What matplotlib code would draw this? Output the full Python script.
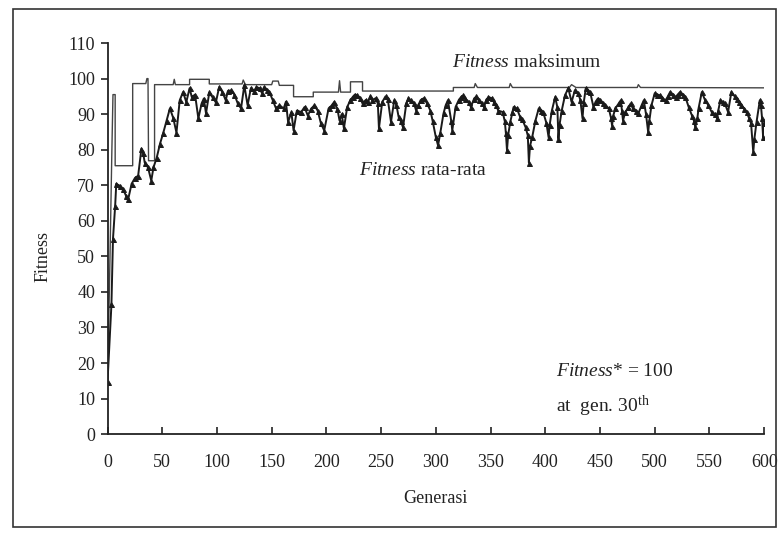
import matplotlib
matplotlib.use("Agg")
import matplotlib.pyplot as plt
from matplotlib.patches import Rectangle

plt.rcParams['font.family'] = ['Liberation Serif', 'DejaVu Serif']
plt.rcParams['mathtext.fontset'] = 'custom'
plt.rcParams['mathtext.rm'] = 'Liberation Serif'
plt.rcParams['mathtext.it'] = 'Liberation Serif:italic'

# fitness maksimum (titik patahan garis)
max_gen = [0, 2, 4, 5, 7, 7, 23, 23, 35, 36, 37, 37.5, 43, 43, 60, 61, 62, 75, 75,
           93, 93, 123, 124, 126, 150, 151, 156, 157, 170, 170, 188, 188, 211, 212,
           213, 222, 222, 233, 233, 316, 316, 335, 336, 338, 367, 368, 370, 422,
           424, 428, 484, 485, 487, 600]
max_val = [15, 45, 80, 95.5, 95.5, 75.5, 75.5, 98.6, 98.6, 100, 100, 76.9, 76.9,
           98.3, 98.3, 99.8, 98.3, 98.3, 99.8, 99.8, 98.5, 98.5, 99.6, 98.3, 98.3,
           99.3, 99.3, 98.1, 98.1, 94.9, 94.9, 96.2, 96.2, 99.4, 96.2, 96.2, 99.1,
           99.1, 96.5, 96.5, 97.5, 97.5, 98.6, 97.5, 97.5, 98.6, 97.5, 97.5, 98.3,
           97.5, 97.5, 98.3, 97.5, 97.4]

# fitness rata-rata
avg_gen = [0, 3.6, 5, 7, 8, 11, 14, 17, 19, 22, 25, 28, 31, 32.5, 34, 37, 40, 42,
           45, 48, 51, 54, 57, 60, 63, 66, 69, 72, 75, 77, 80, 83, 86, 88, 90, 93,
           96, 99, 102, 105, 108, 110, 113, 116, 119, 122, 125, 128, 131, 134, 136,
           139, 141, 143, 146, 148, 151, 154, 157, 161, 163, 165, 168, 170, 173,
           177, 180, 183, 186, 189, 192, 195, 198, 202, 205, 207, 210, 212, 214,
           216, 219, 222, 224, 226, 228, 231, 233, 236, 238, 240, 242, 245, 247,
           248, 251, 254, 256, 259, 262, 264, 266, 268, 270, 273, 275, 277, 280,
           282, 284, 286, 289, 292, 295, 297, 300, 302, 304, 307, 309, 311, 314,
           315, 318, 321, 323, 325, 327, 330, 332, 335, 337, 339, 342, 344, 346,
           348, 351, 353, 355, 357, 361, 363, 364, 365, 366, 368, 370, 371, 374,
           377, 379, 382, 384, 385, 386, 388, 391, 394, 396, 398, 401, 403, 404,
           406, 409, 411, 412, 413, 415, 418, 421, 424, 427, 430, 432, 434, 435,
           437, 439, 441, 444, 446, 448, 450, 453, 455, 458, 460, 461, 462, 464,
           467, 469, 470, 471, 473, 476, 478, 480, 483, 485, 488, 490, 492, 494,
           495, 497, 500, 502, 505, 507, 510, 512, 514, 517, 519, 521, 523, 526,
           528, 531, 534, 536, 537, 539, 540, 543, 546, 549, 552, 555, 557, 558,
           560, 562, 564, 567, 570, 573, 575, 577, 579, 582, 584, 586, 588, 590,
           591, 593, 596, 597, 598, 599, 600]
avg_val = [14.7, 36.5, 54.9, 64.2, 70.4, 69.9, 69.0, 67.0, 66.2, 70.4, 72.0, 72.7,
           80.3, 79.2, 76.4, 75.0, 71.3, 75.0, 77.8, 81.7, 84.8, 88.2, 91.6, 89.0,
           84.8, 93.9, 96.2, 93.4, 97.3, 94.8, 95.5, 88.8, 93.0, 94.4, 90.2, 96.1,
           94.7, 93.3, 97.6, 96.2, 93.9, 96.5, 96.7, 95.5, 93.0, 91.6, 98.1, 92.5,
           97.3, 96.5, 97.6, 97.3, 96.0, 97.6, 96.8, 96.2, 93.9, 91.6, 92.5, 91.6,
           93.5, 87.8, 90.5, 85.4, 91.0, 90.6, 92.0, 89.6, 91.5, 92.5, 91.0, 87.4,
           85.4, 91.6, 92.5, 93.4, 91.5, 88.2, 90.0, 86.0, 92.0, 94.0, 94.8, 95.5,
           95.3, 94.5, 93.0, 94.0, 93.4, 95.0, 93.9, 94.5, 93.0, 86.0, 93.4, 95.0,
           94.4, 87.8, 93.9, 92.5, 89.2, 88.0, 86.3, 93.0, 94.5, 93.9, 93.0, 91.0,
           92.5, 93.9, 94.5, 93.0, 91.0, 88.2, 83.5, 81.2, 84.6, 90.2, 92.5, 93.9,
           88.2, 85.4, 92.0, 94.0, 94.8, 95.3, 94.4, 93.5, 92.0, 94.4, 95.0, 93.9,
           93.0, 92.0, 94.0, 94.8, 94.5, 93.4, 92.5, 91.0, 90.6, 88.0, 84.6, 79.8,
           84.0, 87.8, 90.5, 92.0, 91.6, 89.2, 88.5, 86.3, 84.0, 76.4, 81.0, 83.5,
           88.2, 91.6, 91.0, 90.6, 87.5, 83.5, 87.0, 91.0, 94.8, 92.0, 83.1, 87.0,
           91.0, 95.3, 97.3, 93.4, 96.7, 95.9, 94.0, 88.8, 93.0, 97.3, 96.5, 96.2,
           92.0, 93.5, 94.4, 94.0, 93.0, 92.5, 91.6, 89.0, 86.8, 89.5, 91.6, 93.0,
           93.9, 91.0, 88.2, 90.5, 92.0, 93.0, 91.6, 91.0, 90.2, 92.5, 93.9, 90.0,
           84.9, 88.0, 92.5, 95.9, 95.5, 95.3, 94.5, 93.9, 95.0, 96.2, 95.5, 94.8,
           95.5, 96.2, 95.5, 94.8, 92.0, 89.6, 88.0, 86.3, 89.0, 91.6, 96.2, 93.9,
           92.5, 90.6, 90.0, 88.8, 91.0, 93.9, 93.5, 93.0, 90.6, 96.2, 95.0, 94.4,
           93.5, 92.5, 91.5, 90.6, 89.0, 87.4, 79.3, 83.0, 87.8, 93.9, 92.5, 89.0,
           83.5, 87.4]

y_ticks = list(range(0, 111, 10))
x_ticks = list(range(0, 601, 50))

fig = plt.figure(figsize=(7.79, 5.38), dpi=100)
ax = fig.add_axes([0.138, 0.193, 0.843, 0.727])

ax.plot(max_gen, max_val, color='#444444', lw=1.0)
ax.plot(avg_gen, avg_val, color='#1a1a1a', lw=1.4, marker='^', ms=3.6,
        markeredgewidth=0.7)

ax.set_xlim(0, 600)
ax.set_ylim(0, 110)
ax.set_xticks(x_ticks)
ax.set_yticks(y_ticks)
for s in ['top', 'right']:
    ax.spines[s].set_visible(False)
for s in ['left', 'bottom']:
    ax.spines[s].set_linewidth(1.3)
    ax.spines[s].set_color('#222222')
ax.tick_params(axis='y', direction='out', length=5, width=1.2, labelsize=13,
               pad=4, colors='#222222')
ax.tick_params(axis='x', direction='in', length=5, width=1.2, labelsize=13,
               pad=14, colors='#222222')

ax.set_xlabel('Generasi', fontsize=13, labelpad=14, color='#222222')
ax.set_ylabel('Fitness', fontsize=13, color='#222222')
ax.yaxis.set_label_coords(-0.085, 0.455)

ax.text(315, 104.6, r'$\mathit{Fitness}$ maksimum', fontsize=14,
        va='center', ha='left', color='#222222')
ax.text(230, 74.1, r'$\mathit{Fitness}$ rata-rata', fontsize=14,
        va='center', ha='left', color='#222222')
ax.text(410, 17.5, r'$\mathit{Fitness}$* = 100', fontsize=14,
        va='center', ha='left', color='#222222')
ax.text(410, 7.8, r'at  gen. 30$^{\mathrm{th}}$', fontsize=14,
        va='center', ha='left', color='#222222')

# bingkai luar
fig.patches.append(Rectangle((13 / 779, 1 - 527 / 538), 763 / 779, 518 / 538,
                             transform=fig.transFigure, fill=False,
                             edgecolor='#333333', lw=1.2))

fig.savefig('out.png', dpi=100, facecolor='white')
